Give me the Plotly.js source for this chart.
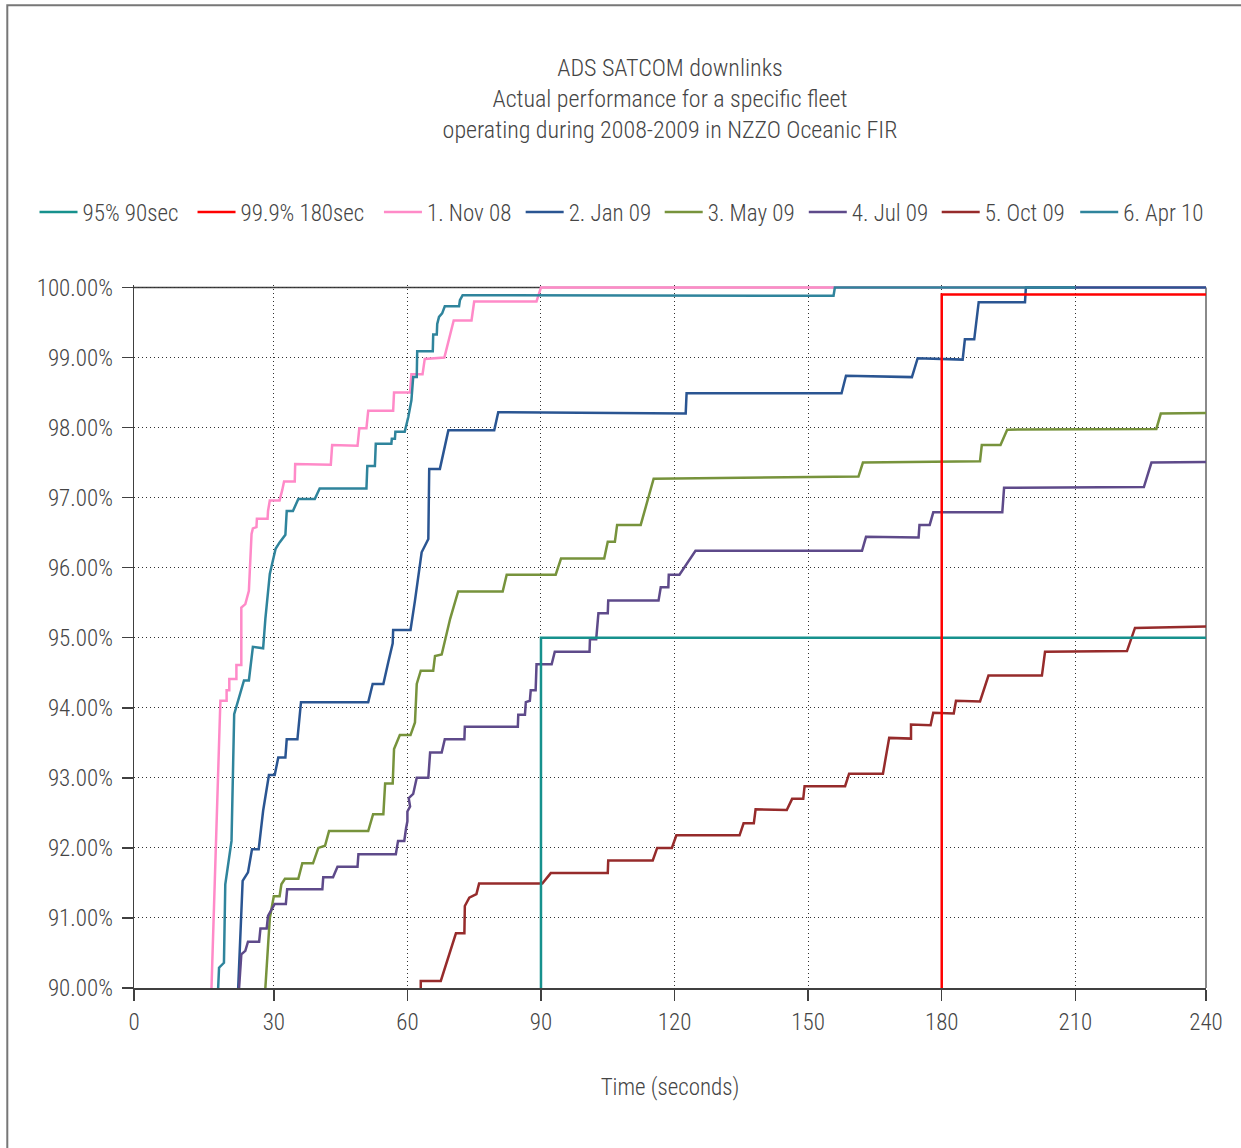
<!DOCTYPE html>
<html>
<head>
<meta charset="utf-8">
<script src="https://cdn.plot.ly/plotly-3.0.1.min.js"></script>
<style>
  html, body { margin: 0; padding: 0; background: #ffffff; }
  #chart { width: 1241px; height: 1148px; }
</style>
</head>
<body>
<div id="chart"></div>
<script>
// ---------------- data (seconds, cumulative % delivered) ----------------
const req95X = [90, 90, 240];
const req95Y = [90, 95, 95];
const req999X = [180, 180, 240];
const req999Y = [90, 99.9, 99.9];

const nov08X = [16.0, 18.0, 19.4, 19.4, 20.0, 20.0, 21.6, 21.6, 22.7, 22.7, 23.6, 24.2, 24.4, 25.0, 25.3, 26.1, 26.2, 28.6, 28.7, 29.1, 31.3, 31.9, 32.3, 34.7, 34.8, 42.8, 43.1, 48.8, 49.2, 50.8, 51.2, 56.8, 57.0, 60.6, 60.9, 63.4, 63.9, 68.3, 70.4, 74.4, 75.0, 89.0, 90.0, 240];
const nov08Y = [90.0, 94.10, 94.10, 94.25, 94.25, 94.41, 94.41, 94.61, 94.61, 95.43, 95.48, 95.62, 95.67, 96.48, 96.56, 96.58, 96.70, 96.70, 96.81, 96.96, 96.96, 97.11, 97.23, 97.23, 97.48, 97.47, 97.75, 97.74, 97.99, 97.99, 98.24, 98.24, 98.50, 98.50, 98.76, 98.76, 98.98, 99.00, 99.53, 99.53, 99.80, 99.80, 100.0, 100.0];

const jan09X = [22.0, 23.0, 24.2, 25.1, 26.6, 27.6, 28.9, 30.2, 31.0, 32.6, 32.9, 35.3, 36.1, 51.2, 52.2, 54.6, 55.7, 56.7, 56.8, 60.7, 61.7, 63.2, 64.7, 64.9, 67.3, 69.2, 79.5, 80.4, 122.5, 122.7, 157.5, 158.5, 173.3, 174.6, 184.7, 185.2, 187.3, 188.3, 198.7, 198.9, 240];
const jan09Y = [90.0, 91.53, 91.65, 91.98, 91.98, 92.53, 93.04, 93.04, 93.29, 93.29, 93.55, 93.55, 94.08, 94.08, 94.34, 94.34, 94.65, 94.92, 95.11, 95.11, 95.53, 96.22, 96.41, 97.41, 97.41, 97.96, 97.96, 98.22, 98.20, 98.49, 98.49, 98.74, 98.72, 98.99, 98.97, 99.26, 99.26, 99.79, 99.79, 100.0, 100.0];

const may09X = [28.1, 29.1, 30.0, 31.3, 31.7, 32.5, 35.5, 36.4, 38.8, 40.0, 41.5, 42.4, 51.2, 52.3, 54.6, 55.0, 56.7, 57.0, 58.3, 60.7, 61.7, 62.1, 63.0, 65.8, 66.2, 67.7, 69.6, 71.4, 81.4, 82.3, 93.3, 94.5, 104.2, 105.0, 106.6, 107.1, 112.4, 115.3, 161.3, 162.3, 188.6, 189.0, 193.2, 194.7, 228.2, 229.2, 240];
const may09Y = [90.0, 91.00, 91.31, 91.31, 91.48, 91.56, 91.56, 91.78, 91.78, 92.00, 92.03, 92.24, 92.24, 92.48, 92.48, 92.92, 92.92, 93.41, 93.61, 93.61, 93.79, 94.34, 94.53, 94.53, 94.74, 94.76, 95.27, 95.66, 95.66, 95.90, 95.90, 96.13, 96.13, 96.37, 96.37, 96.61, 96.61, 97.27, 97.30, 97.50, 97.52, 97.75, 97.75, 97.97, 97.98, 98.20, 98.21];

const jul09X = [22.2, 22.7, 23.6, 24.2, 26.7, 27.0, 28.4, 28.7, 30.2, 32.7, 33.0, 40.9, 41.1, 43.3, 44.3, 48.8, 49.0, 57.4, 57.9, 59.3, 59.7, 60.0, 60.0, 60.6, 60.3, 61.3, 62.1, 64.7, 65.1, 67.7, 68.4, 72.8, 72.9, 84.8, 84.9, 86.4, 86.6, 87.5, 87.7, 88.8, 89.0, 92.4, 93.1, 100.9, 101.0, 102.4, 102.9, 105.0, 105.1, 116.4, 116.9, 118.6, 118.7, 121.1, 124.7, 162.1, 163.0, 174.8, 175.0, 177.3, 178.1, 193.6, 194.0, 225.4, 227.1, 240];
const jul09Y = [90.0, 90.48, 90.53, 90.66, 90.66, 90.85, 90.85, 91.03, 91.20, 91.20, 91.41, 91.41, 91.58, 91.58, 91.73, 91.73, 91.91, 91.91, 92.10, 92.10, 92.28, 92.38, 92.52, 92.59, 92.71, 92.77, 93.00, 93.00, 93.36, 93.36, 93.55, 93.55, 93.73, 93.73, 93.90, 93.90, 94.08, 94.10, 94.25, 94.25, 94.62, 94.62, 94.80, 94.80, 94.98, 94.98, 95.35, 95.35, 95.53, 95.53, 95.72, 95.72, 95.90, 95.90, 96.24, 96.24, 96.44, 96.43, 96.61, 96.61, 96.79, 96.79, 97.14, 97.15, 97.50, 97.51];

const oct09X = [63.0, 63.0, 67.5, 70.9, 72.8, 72.9, 73.9, 75.5, 76.1, 90.3, 92.2, 105.0, 105.1, 115.1, 116.1, 119.4, 120.4, 134.6, 135.5, 137.8, 138.2, 145.2, 146.4, 148.9, 149.2, 158.3, 159.2, 166.8, 168.2, 173.1, 173.1, 177.5, 178.1, 182.7, 183.2, 188.6, 190.5, 202.5, 203.2, 221.6, 223.4, 240];
const oct09Y = [90.0, 90.10, 90.10, 90.78, 90.78, 91.17, 91.29, 91.34, 91.49, 91.49, 91.64, 91.64, 91.82, 91.82, 92.00, 92.00, 92.18, 92.18, 92.35, 92.35, 92.55, 92.54, 92.70, 92.70, 92.88, 92.88, 93.06, 93.06, 93.57, 93.56, 93.76, 93.75, 93.93, 93.92, 94.10, 94.09, 94.46, 94.46, 94.80, 94.81, 95.14, 95.16];

const apr10X = [17.5, 17.7, 18.8, 19.1, 20.5, 21.1, 23.3, 24.4, 25.3, 27.6, 28.1, 29.1, 30.4, 31.3, 32.6, 32.9, 34.3, 35.5, 39.2, 40.3, 50.8, 51.0, 52.7, 52.9, 56.4, 56.5, 57.2, 57.3, 59.4, 60.2, 60.9, 61.3, 62.1, 62.2, 65.7, 65.8, 66.6, 66.7, 67.1, 67.8, 68.4, 71.6, 71.8, 72.4, 155.7, 156.0, 210];
const apr10Y = [90.0, 90.29, 90.36, 91.48, 92.10, 93.91, 94.39, 94.39, 94.87, 94.85, 95.27, 95.91, 96.27, 96.36, 96.47, 96.81, 96.81, 96.98, 96.98, 97.13, 97.13, 97.45, 97.45, 97.77, 97.77, 97.84, 97.84, 97.94, 97.94, 98.15, 98.39, 98.72, 98.72, 99.09, 99.09, 99.33, 99.33, 99.48, 99.58, 99.63, 99.73, 99.73, 99.82, 99.89, 99.88, 100.0, 100.0];

// ---------------- axis labels ----------------
const xTickLabels = ['0', '30', '60', '90', '120', '150', '180', '210', '240'];
const xTickValues = [-1.4, 30, 60, 90, 120, 150, 180, 210, 239.35];
const yTickValues = [90, 91, 92, 93, 94, 95, 96, 97, 98, 99, 100];
const yTickLabels = ['90.00%', '91.00%', '92.00%', '93.00%', '94.00%', '95.00%', '96.00%', '97.00%', '98.00%', '99.00%', '100.00%'];

const FONT = '"Liberation Sans Narrow", "Arial Narrow", "Roboto Condensed", "Liberation Sans", sans-serif';
const TXT = '#454545';

// legend entry positions (paper x of each one-item legend, left edge)
const legendX = [-0.0928, 0.0546, 0.2285, 0.3607, 0.4904, 0.6248, 0.7488, 0.8780];

function series(name, x, y, color, legendIdx) {
  return {
    type: 'scatter', mode: 'lines', name: name, x: x, y: y,
    line: { color: color, width: 2.5 },
    legend: legendIdx === 1 ? 'legend' : 'legend' + legendIdx,
    hoverinfo: 'skip'
  };
}

const traces = [
  series('1. Nov 08', nov08X, nov08Y, '#FF8AC8', 3),
  series('2. Jan 09', jan09X, jan09Y, '#2A5592', 4),
  series('3. May 09', may09X, may09Y, '#77933C', 5),
  series('4. Jul 09', jul09X, jul09Y, '#5E4A8A', 6),
  series('5. Oct 09', oct09X, oct09Y, '#962B2B', 7),
  series('6. Apr 10', apr10X, apr10Y, '#2F849C', 8),
  series('95% 90sec', req95X, req95Y, '#16918D', 1),
  series('99.9% 180sec', req999X, req999Y, '#FF0000', 2)
];

function legendBox(i) {
  return {
    orientation: 'h', x: legendX[i], xanchor: 'left', y: 1.1038, yanchor: 'middle',
    font: { family: FONT, size: 23, color: TXT, weight: 300 },
    itemwidth: 38, bgcolor: 'rgba(0,0,0,0)', borderwidth: 0
  };
}

const layout = {
  width: 1241, height: 1148,
  margin: { l: 134, r: 35, t: 285, b: 160, pad: 0 },
  paper_bgcolor: '#ffffff', plot_bgcolor: '#ffffff',
  font: { family: FONT, color: TXT, size: 23, weight: 300 },
  title: {
    text: 'ADS SATCOM downlinks<br>Actual performance for a specific fleet<br>operating during 2008-2009 in NZZO Oceanic FIR',
    x: 0.5, xref: 'paper', xanchor: 'center',
    y: 1 - 76 / 1148, yref: 'container', yanchor: 'top',
    font: { family: FONT, size: 24, color: TXT, weight: 300 }
  },
  showlegend: true,
  legend: legendBox(0),
  legend2: legendBox(1),
  legend3: legendBox(2),
  legend4: legendBox(3),
  legend5: legendBox(4),
  legend6: legendBox(5),
  legend7: legendBox(6),
  legend8: legendBox(7),
  xaxis: {
    range: [-1.4, 239.35], tickmode: 'array', tickvals: xTickValues, ticktext: xTickLabels,
    showgrid: true, gridcolor: '#303030', gridwidth: 1, griddash: '1px,3px',
    zeroline: false, showline: true, linecolor: '#404040', linewidth: 1.5,
    ticks: 'outside', ticklen: 11, tickwidth: 1.5, tickcolor: '#404040',
    tickfont: { family: FONT, size: 23, color: TXT, weight: 300 },
    ticklabelstandoff: 2,
    title: { text: 'Time (seconds)', font: { family: FONT, size: 23, color: TXT, weight: 300 }, standoff: 44 },
    fixedrange: true
  },
  yaxis: {
    range: [90, 100.035], tickmode: 'array', tickvals: yTickValues, ticktext: yTickLabels,
    showgrid: true, gridcolor: '#303030', gridwidth: 1, griddash: '1px,3px',
    zeroline: false, showline: true, linecolor: '#404040', linewidth: 1.5,
    ticks: 'outside', ticklen: 11, tickwidth: 1.5, tickcolor: '#404040',
    tickfont: { family: FONT, size: 23, color: TXT, weight: 300 },
    ticklabelstandoff: 4,
    fixedrange: true
  },
  shapes: [
    // plot top border at 100 %
    { type: 'line', xref: 'x', yref: 'y', x0: -1.4, x1: 239.35, y0: 100, y1: 100,
      line: { color: '#404040', width: 1.5 }, layer: 'below' },
    // plot right border
    { type: 'line', xref: 'paper', yref: 'y', x0: 1, x1: 1, y0: 90, y1: 100,
      line: { color: '#8a8a8a', width: 2 }, layer: 'below' },
    // outer chart frame
    { type: 'rect', xref: 'paper', yref: 'paper', x0: -0.1182, x1: 1.06, y0: -0.3, y1: 1.3978,
      line: { color: '#777777', width: 2 }, fillcolor: 'rgba(0,0,0,0)', layer: 'below' }
  ]
};

Plotly.newPlot('chart', traces, layout, { staticPlot: true, displayModeBar: false });
</script>
</body>
</html>
